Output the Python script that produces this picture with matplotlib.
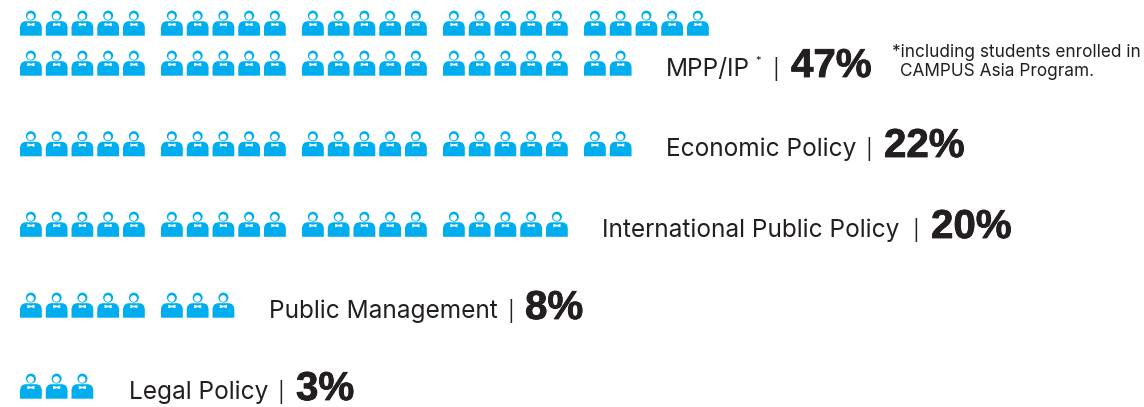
import numpy as np
import matplotlib
matplotlib.use("Agg")
import matplotlib.pyplot as plt
import matplotlib.patheffects as pe
from matplotlib.patches import Circle, PathPatch
from matplotlib.path import Path

# one icon stands for one percent
categories = ["MPP/IP", "Economic Policy", "International Public Policy", "Public Management", "Legal Policy"]
percents = [47, 22, 20, 8, 3]
percent_labels = ["47%", "22%", "20%", "8%", "3%"]
note_lines = ["*including students enrolled in", "CAMPUS Asia Program."]

BLUE = "#00aeef"
DARK = "#231f20"
W, H = 1144, 407
PER_GROUP = 5
PER_ROW = 25

plt.rcParams["font.family"] = ["Inter", "Liberation Sans", "DejaVu Sans"]


def draw_icon(ax, x, bottom):
    """Person icon, x is the left edge and bottom the baseline in pixels."""
    cx = x + 10.9
    top = bottom - 14.5
    # shoulders
    verts = [(x, bottom), (x, top + 6.5), (x + 0.2, top), (x + 6, top),
             (x + 15.8, top), (x + 21.6, top), (x + 21.8, top + 6.5),
             (x + 21.8, bottom), (x, bottom)]
    codes = [Path.MOVETO, Path.LINETO, Path.CURVE3, Path.CURVE3, Path.LINETO,
             Path.CURVE3, Path.CURVE3, Path.LINETO, Path.CLOSEPOLY]
    ax.add_patch(PathPatch(Path(verts, codes), fc=BLUE, ec="none"))
    # bow tie
    tie = [(cx - 3.6, top + 1.6), (cx, top + 2.6), (cx + 3.6, top + 1.6),
           (cx + 3.6, top + 5.0), (cx, top + 4.0), (cx - 3.6, top + 5.0)]
    ax.fill(*zip(*tie), fc="white", ec="none")
    # head: blue disc with the face cut out, hair is the thick part on top
    head_y = bottom - 20.1
    ax.add_patch(Circle((cx, head_y), 5.0, fc=BLUE, ec="none"))
    ax.add_patch(Circle((cx - 0.3, head_y + 0.9), 3.3, fc="white", ec="none"))


fig = plt.figure(figsize=(W / 100, H / 100), dpi=100)
ax = fig.add_axes([0, 0, 1, 1])
ax.set_xlim(0, W)
ax.set_ylim(H, 0)
ax.axis("off")

# baselines of the icon rows, top block has two rows
row_bottoms = [75.7, 156.3, 236.8, 317.7, 398.7]
text_x = [665.5, 665.5, 602, 269, 129]
text_y = [76, 156, 237, 318, 399]
bar_x = [776, 869, 916, 511, 281]
pct_x = [791, 884, 931, 525, 296]

for i, n in enumerate(percents):
    bottom = row_bottoms[i]
    # the 47 spills over a full row above
    if n > PER_ROW:
        rows = [(PER_ROW, bottom - 40), (n - PER_ROW, bottom)]
    else:
        rows = [(n, bottom)]
    for count, b in rows:
        for k in range(count):
            x = 20 + (k % PER_GROUP) * 25.75 + (k // PER_GROUP) * 141
            draw_icon(ax, x, b)

    ax.text(text_x[i], text_y[i], categories[i], fontsize=17.6, color=DARK,
            va="baseline", ha="left")
    ax.text(bar_x[i], text_y[i], "|", fontsize=14.5, color=DARK, va="baseline", ha="center")
    ax.text(pct_x[i], text_y[i] + 1, percent_labels[i], fontsize=29, fontweight="bold",
            family=["Liberation Sans"], color=DARK, va="baseline", ha="left",
            path_effects=[pe.withStroke(linewidth=0.6, foreground=DARK)])

ax.text(755, 64, "*", fontsize=8, color=DARK, ha="left", va="baseline")
ax.text(892, 57, note_lines[0], fontsize=12.4, color=DARK, ha="left", va="baseline")
ax.text(900, 76, note_lines[1], fontsize=12.4, color=DARK, ha="left", va="baseline")

fig.savefig("out.png", dpi=100)
